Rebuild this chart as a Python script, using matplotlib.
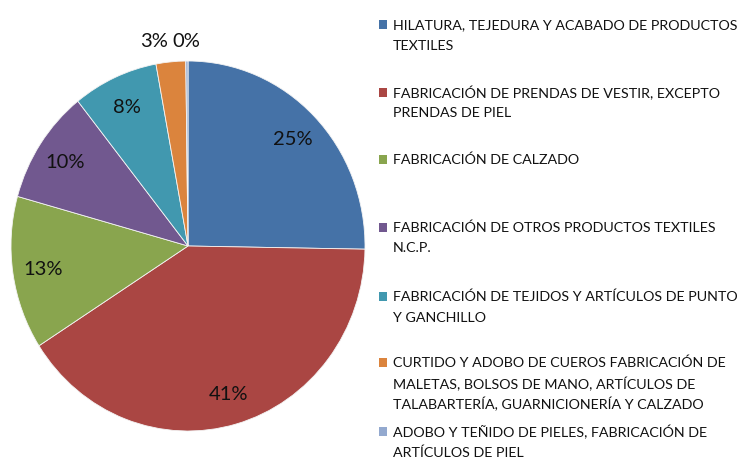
import matplotlib
matplotlib.use("Agg")
import matplotlib.pyplot as plt
from matplotlib.patches import Rectangle

categories = [
    "HILATURA, TEJEDURA Y ACABADO DE PRODUCTOS\nTEXTILES",
    "FABRICACIÓN DE PRENDAS DE VESTIR, EXCEPTO\nPRENDAS DE PIEL",
    "FABRICACIÓN DE CALZADO",
    "FABRICACIÓN DE OTROS PRODUCTOS TEXTILES\nN.C.P.",
    "FABRICACIÓN DE TEJIDOS Y ARTÍCULOS DE PUNTO\nY GANCHILLO",
    "CURTIDO Y ADOBO DE CUEROS FABRICACIÓN DE\nMALETAS, BOLSOS DE MANO, ARTÍCULOS DE\nTALABARTERÍA, GUARNICIONERÍA Y CALZADO",
    "ADOBO Y TEÑIDO DE PIELES, FABRICACIÓN DE\nARTÍCULOS DE PIEL",
]
values = [25.3, 40.7, 13.4, 10.0, 7.8, 2.7, 0.2]
colors = ["#4572A7", "#AA4643", "#89A54E", "#71588F", "#4198AF", "#DB843D", "#93A9CF"]

plt.rcParams['font.family'] = ['Lato', 'DejaVu Sans']

W, H = 745, 460
fig = plt.figure(figsize=(W / 100, H / 100), dpi=100)

# pie axes (slightly elliptical like the reference)
cx, cy, rx, ry = 188, 247, 177, 185
ax = fig.add_axes([(cx - rx) / W, (H - cy - ry) / H, 2 * rx / W, 2 * ry / H])
wedges, texts, autotexts = ax.pie(
    values, colors=colors, startangle=90, counterclock=False,
    autopct="%.0f%%", pctdistance=0.83,
    wedgeprops=dict(edgecolor="#f4f4f4", linewidth=0.6),
    textprops=dict(fontsize=14.5, color="#111111"),
)
ax.set_aspect("auto")
ax.set_xlim(-1, 1)
ax.set_ylim(-1, 1)
# small slices: labels placed outside, above the pie
autotexts[5].set_position((-0.19, 1.11))
autotexts[6].set_position((-0.01, 1.11))
for t in autotexts[5:]:
    t.set_clip_on(False)

# legend drawn manually
first_line_y = [25, 93, 160, 228, 297, 363, 432]
line_h = 20.5
for lab, col, y0 in zip(categories, colors, first_line_y):
    fig.patches.append(Rectangle(((379) / W, (H - y0 - 4.5) / H), 8.5 / W, 9 / H,
                                 transform=fig.transFigure, facecolor=col,
                                 edgecolor="none", figure=fig))
    for i, line in enumerate(lab.split("\n")):
        fig.text(393 / W, (H - (y0 + i * line_h)) / H, line, fontsize=10.3,
                 color="#111111", va="center", ha="left")

fig.savefig("out.png", dpi=100, facecolor="white")
